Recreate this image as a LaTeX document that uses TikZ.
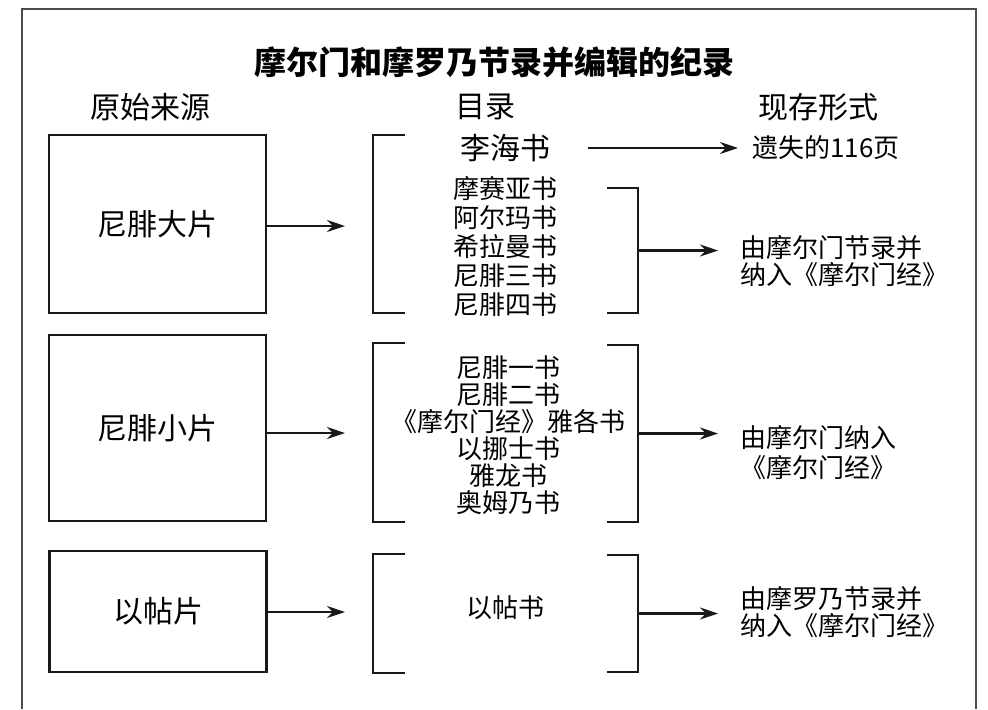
\documentclass[tikz,border=0pt]{standalone}
\usepackage{fontspec}
\setmainfont{Noto Sans CJK SC}
\usetikzlibrary{arrows.meta}

\begin{document}
\begin{tikzpicture}[x=0.5pt, y=-0.5pt,
    caja/.style={draw=black!90, line width=1.3pt, minimum width=108.5pt,
      font=\fontsize{15}{18}\selectfont},
    titulo/.style={inner sep=0pt, font=\fontsize{15}{18}\selectfont},
    lista/.style={inner sep=0pt, align=center, font=\fontsize{13}{14.5}\selectfont},
    forma/.style={inner sep=0pt, align=left, font=\fontsize{13}{13.5}\selectfont},
    flecha/.style={-{Stealth[length=9pt,width=6pt]}, line width=1.1pt, black!90},
    corchete/.style={line width=1.25pt, black!90}]
  \useasboundingbox (0,0) rectangle (988,709);

  % Marco abierto por abajo
  \draw[line width=0.8pt, black!70] (22,709) -- (22,9) -- (976,9) -- (976,709);

  % Titulo y encabezados
  \node[inner sep=0pt, font=\fontsize{16}{18}\selectfont\bfseries] (tit) at (494,62)
    {摩尔门和摩罗乃节录并编辑的纪录};
  \node[titulo] (hfuente) at (150,107) {原始来源};
  \node[titulo] (hlibro) at (485,107) {目录};
  \node[titulo] (hforma) at (818,107) {现存形式};

  % Fuentes originales
  \node[caja, minimum height=89pt] (planch1) at (157.5,224) {尼腓大片};
  \node[caja, minimum height=93pt] (planch2) at (157.5,428) {尼腓小片};
  \node[caja, minimum height=60.5pt] (planch3) at (158,611.5) {以帖片};

  % Corchetes de los libros
  \foreach \t/\b in {135/313, 343/522, 554/673}
    \draw[corchete] (405,\t) -- (373,\t) -- (373,\b) -- (405,\b);
  \foreach \t/\b in {188/313, 345/522, 555/672}
    \draw[corchete] (607,\t) -- (638,\t) -- (638,\b) -- (607,\b);
  \coordinate (ent1) at (373,226);
  \coordinate (ent2) at (373,433);
  \coordinate (ent3) at (373,612);
  \coordinate (sal1) at (638,250.5);
  \coordinate (sal2) at (638,433.5);
  \coordinate (sal3) at (638,613.5);

  % Libros
  \node[titulo] (lehi) at (505,148) {李海书};
  \node[lista] (libros1) at (505,246.5)
    {摩赛亚书\\阿尔玛书\\希拉曼书\\尼腓三书\\尼腓四书};
  \node[lista, font=\fontsize{13}{13.5}\selectfont] (libros2) at (508,435.5)
    {尼腓一书\\尼腓二书\\《摩尔门经》雅各书\\以挪士书\\雅龙书\\奥姆乃书};
  \node[lista] (libros3) at (505,608) {以帖书};

  % Formas actuales
  \node[forma, anchor=west] (perdido) at (752,148) {遗失的116页};
  \node[forma, anchor=west] (forma1) at (740,261.5) {由摩尔门节录并\\纳入《摩尔门经》};
  \node[forma, anchor=west, align=center, font=\fontsize{13}{15}\selectfont] (forma2)
    at (740,453) {由摩尔门纳入\\《摩尔门经》};
  \node[forma, anchor=west] (forma3) at (740,612.5) {由摩罗乃节录并\\纳入《摩尔门经》};

  % Flechas
  \draw[flecha, shorten >=14pt] (planch1.east |- ent1) -- (ent1);
  \draw[flecha, shorten >=14pt] (planch2.east |- ent2) -- (ent2);
  \draw[flecha, shorten >=14pt] (planch3.east |- ent3) -- (ent3);
  \draw[flecha, shorten <=19pt, shorten >=7pt] (lehi) -- (perdido);
  \draw[flecha, shorten >=11pt] (sal1) -- (sal1 -| forma1.west);
  \draw[flecha, shorten >=11pt] (sal2) -- (sal2 -| forma2.west);
  \draw[flecha, shorten >=11pt] (sal3) -- (sal3 -| forma3.west);
\end{tikzpicture}
\end{document}
